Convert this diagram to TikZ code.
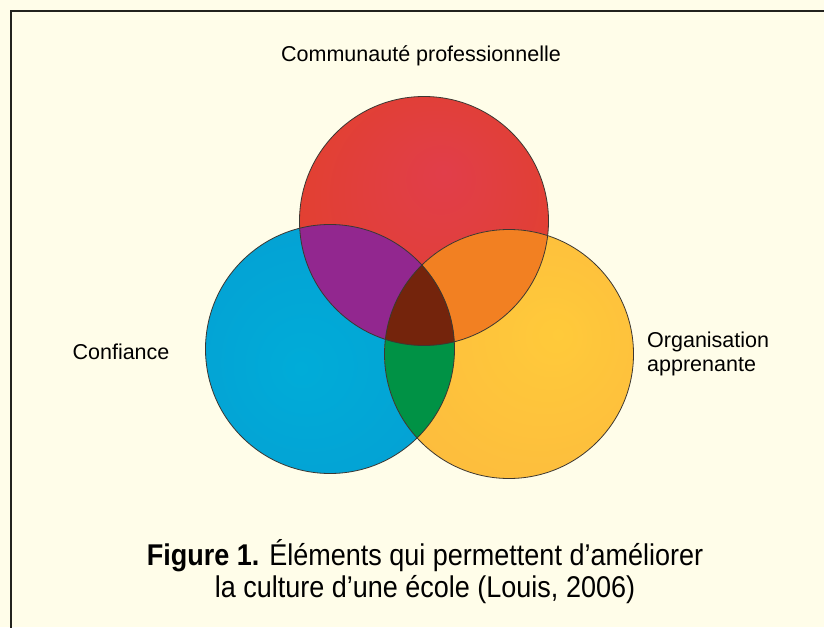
\documentclass[tikz,border=0pt]{standalone}
\usepackage{fontspec}
\setmainfont{Liberation Sans}
\newfontfamily\capfont[FakeStretch=0.9]{Liberation Sans}
\begin{document}
% Venn diagram of the three elements of school culture
\definecolor{paper}{RGB}{255,253,233}
\definecolor{framecol}{RGB}{35,35,30}
\definecolor{redin}{RGB}{225,62,74}
\definecolor{redout}{RGB}{226,65,36}
\definecolor{bluein}{RGB}{0,172,216}
\definecolor{blueout}{RGB}{8,152,208}
\definecolor{yellowin}{RGB}{255,202,58}
\definecolor{yellowout}{RGB}{251,178,64}
\definecolor{purplezone}{RGB}{146,39,143}
\definecolor{orangezone}{RGB}{242,128,34}
\definecolor{greenzone}{RGB}{0,146,69}
\definecolor{brownzone}{RGB}{116,36,12}
\definecolor{rimcol}{RGB}{60,55,50}
\pgfdeclareradialshading{redshade}{\pgfpoint{4bp}{10bp}}{color(0bp)=(redin); color(42bp)=(redout)}
\pgfdeclareradialshading{blueshade}{\pgfpoint{-6bp}{-4bp}}{color(0bp)=(bluein); color(55bp)=(blueout)}
\pgfdeclareradialshading{yellowshade}{\pgfpoint{10bp}{4bp}}{color(0bp)=(yellowin); color(55bp)=(yellowout)}
\begin{tikzpicture}[x=1pt,y=1pt,
  label/.style={font=\fontsize{21.5}{24.5}\selectfont, text=black, inner sep=0pt},
  caption/.style={font=\capfont\fontsize{30}{32}\selectfont, text=black, inner sep=0pt, align=center},
  rim/.style={draw=rimcol, line width=0.8pt}]
\useasboundingbox (0,0) rectangle (824,627);
\fill[paper] (0,0) rectangle (824,627);
\draw[framecol, line width=1.3pt] (11,-10) -- (11,616) -- (840,616);

% circle centres
\coordinate (cred) at (424,406);
\coordinate (cblue) at (330,278);
\coordinate (cyel) at (509,273);
\def\rr{124.5}

% base discs
\shade[shading=redshade] (cred) circle (\rr);
\shade[shading=blueshade] (cblue) circle (\rr);
\shade[shading=yellowshade] (cyel) circle (\rr);

% pairwise overlaps
\begin{scope}
  \clip (cred) circle (\rr);
  \fill[purplezone] (cblue) circle (\rr);
  \fill[orangezone] (cyel) circle (\rr);
\end{scope}
\begin{scope}
  \clip (cblue) circle (\rr);
  \fill[greenzone] (cyel) circle (\rr);
\end{scope}
% centre overlap
\begin{scope}
  \clip (cred) circle (\rr);
  \clip (cblue) circle (\rr);
  \fill[brownzone] (cyel) circle (\rr);
\end{scope}

% outlines
\draw[rim] (cred) circle (\rr);
\draw[rim] (cblue) circle (\rr);
\draw[rim] (cyel) circle (\rr);

% labels
\node[label] (lcom) at (421,571) {Communauté professionnelle};
\node[label] (lconf) at (121,275) {Confiance};
\node[label, anchor=west, align=left] (lorg) at (647,273) {Organisation\\apprenante};

\node[caption] (cap) at (425,55) {\textbf{Figure 1.} Éléments qui permettent d’améliorer\\la culture d’une école (Louis, 2006)};
\end{tikzpicture}
\end{document}
